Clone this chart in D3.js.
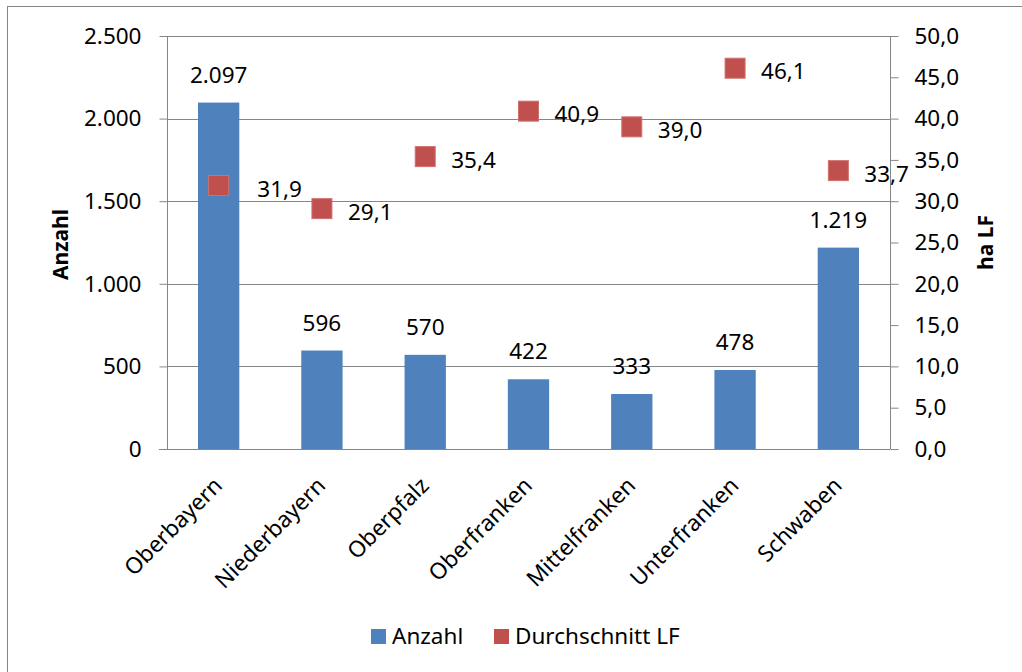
<!DOCTYPE html>
<html lang="de">
<head>
  <meta charset="UTF-8">
  <title>Anzahl und Durchschnitt LF</title>
  <style>
    body { margin: 0; padding: 0; background: #fff; }
    svg text { font-family: "Noto Sans", "Open Sans", sans-serif; fill: #000; }
    .grid line, .axis line, .axis path { stroke: #868686; stroke-width: 1px; }
  </style>
</head>
<body>
<div id="chart"></div>
<script src="https://d3js.org/d3.v7.min.js"></script>
<script>
  // Data
  const regions = ["Oberbayern", "Niederbayern", "Oberpfalz", "Oberfranken", "Mittelfranken", "Unterfranken", "Schwaben"];
  const anzahl = [2097, 596, 570, 422, 333, 478, 1219];
  const durchschnittLF = [31.9, 29.1, 35.4, 40.9, 39.0, 46.1, 33.7];
  const leftTicks = [0, 500, 1000, 1500, 2000, 2500];
  const rightTicks = [0, 5, 10, 15, 20, 25, 30, 35, 40, 45, 50];

  const width = 1022, height = 672;
  const plot = { left: 167, right: 890, top: 36, bottom: 449 };
  const fs = "22.5px";

  const locale = d3.formatLocale({ decimal: ",", thousands: ".", grouping: [3], currency: ["", "€"] });
  const fmtLeft = locale.format(",d");
  const fmtRight = locale.format(".1f");

  const svg = d3.select("#chart").append("svg")
      .attr("width", width)
      .attr("height", height);

  // outer frame
  svg.append("rect")
      .attr("x", 7.5).attr("y", 6.5)
      .attr("width", 1040).attr("height", 700)
      .attr("fill", "none")
      .attr("stroke", "#868686");

  const x = d3.scaleBand()
      .domain(regions)
      .range([plot.left, plot.right])
      .paddingInner(0.6)
      .paddingOuter(0.3);
  const xc = d => x(d) + x.bandwidth() / 2;

  const yL = d3.scaleLinear().domain([0, 2500]).range([plot.bottom, plot.top]);
  const yR = d3.scaleLinear().domain([0, 50]).range([plot.bottom, plot.top]);

  // gridlines
  svg.append("g").attr("class", "grid")
    .selectAll("line")
    .data(leftTicks.filter(d => d > 0))
    .enter().append("line")
      .attr("x1", plot.left).attr("x2", plot.right)
      .attr("y1", d => Math.round(yL(d)) + 0.5)
      .attr("y2", d => Math.round(yL(d)) + 0.5);

  // bars
  svg.append("g").selectAll("rect")
    .data(regions)
    .enter().append("rect")
      .attr("x", d => x(d))
      .attr("y", (d, i) => yL(anzahl[i]))
      .attr("width", x.bandwidth())
      .attr("height", (d, i) => plot.bottom - yL(anzahl[i]))
      .attr("fill", "#4F81BD");

  // bar labels
  svg.append("g").selectAll("text")
    .data(regions)
    .enter().append("text")
      .attr("x", d => xc(d))
      .attr("y", (d, i) => yL(anzahl[i]) - 20)
      .attr("text-anchor", "middle")
      .style("font-size", fs)
      .text((d, i) => fmtLeft(anzahl[i]));

  // left axis
  const leftAxis = svg.append("g").attr("class", "axis")
      .attr("transform", `translate(${plot.left + 0.5},0)`)
      .call(d3.axisLeft(yL).tickValues(leftTicks).tickSize(8).tickPadding(18).tickFormat(fmtLeft));
  leftAxis.selectAll("text").style("font-size", fs);
  leftAxis.select(".domain").attr("d", `M0,${plot.top}V${plot.bottom}`);

  // right axis
  const rightAxis = svg.append("g").attr("class", "axis")
      .attr("transform", `translate(${plot.right + 0.5},0)`)
      .call(d3.axisRight(yR).tickValues(rightTicks).tickSize(8).tickPadding(16).tickFormat(fmtRight));
  rightAxis.selectAll("text").style("font-size", fs);
  rightAxis.select(".domain").attr("d", `M0,${plot.top}V${plot.bottom}`);

  // bottom axis line
  svg.append("line")
      .attr("x1", plot.left - 8).attr("x2", plot.right)
      .attr("y1", plot.bottom + 0.5).attr("y2", plot.bottom + 0.5)
      .attr("stroke", "#868686");

  // category labels
  svg.append("g").selectAll("text")
    .data(regions)
    .enter().append("text")
      .attr("transform", d => `translate(${xc(d) + 5},${plot.bottom + 38}) rotate(-45)`)
      .attr("text-anchor", "end")
      .style("font-size", fs)
      .text(d => d);

  // markers
  const ms = 20;
  svg.append("g").selectAll("rect")
    .data(regions)
    .enter().append("rect")
      .attr("x", d => xc(d) - ms / 2)
      .attr("y", (d, i) => yR(durchschnittLF[i]) - ms / 2)
      .attr("width", ms).attr("height", ms)
      .attr("fill", "#C0504D")
      .attr("stroke", "#D0716E")
      .attr("stroke-width", 1);

  // marker labels: right of the marker, pushed past the bar when the marker sits on it
  svg.append("g").selectAll("text")
    .data(regions)
    .enter().append("text")
      .attr("x", (d, i) => {
        const onBar = yL(anzahl[i]) < yR(durchschnittLF[i]);
        return onBar ? x(d) + x.bandwidth() + 18 : xc(d) + 26;
      })
      .attr("y", (d, i) => yR(durchschnittLF[i]) + 11)
      .style("font-size", fs)
      .text((d, i) => fmtRight(durchschnittLF[i]));

  // axis titles
  svg.append("text")
      .attr("transform", `translate(68,${(plot.top + plot.bottom) / 2 + 2}) rotate(-90)`)
      .attr("text-anchor", "middle")
      .style("font-size", "21px").style("font-weight", "bold")
      .text("Anzahl");
  svg.append("text")
      .attr("transform", `translate(993,${(plot.top + plot.bottom) / 2}) rotate(-90)`)
      .attr("text-anchor", "middle")
      .style("font-size", "21px").style("font-weight", "bold")
      .text("ha LF");

  // legend
  const legend = svg.append("g");
  const legendItems = [
    { label: "Anzahl", color: "#4F81BD", x: 371 },
    { label: "Durchschnitt LF", color: "#C0504D", x: 494 }
  ];
  legendItems.forEach(item => {
    legend.append("rect")
        .attr("x", item.x).attr("y", 629)
        .attr("width", 15).attr("height", 15)
        .attr("fill", item.color);
    legend.append("text")
        .attr("x", item.x + 21).attr("y", 644)
        .style("font-size", fs)
        .text(item.label);
  });
</script>
</body>
</html>
